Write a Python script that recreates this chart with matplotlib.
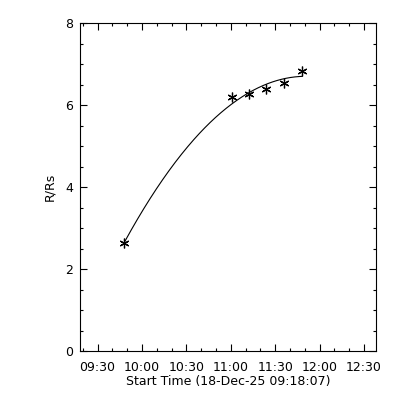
import matplotlib
matplotlib.use("Agg")
import matplotlib.pyplot as plt
import matplotlib.dates as mdates
import numpy as np
import datetime as dt

# Data
start_time = "2025-12-18 09:18:07"
times = ["09:48:00", "11:00:40", "11:12:20", "11:24:00", "11:36:00", "11:48:10"]
heights = [2.63, 6.19, 6.26, 6.38, 6.53, 6.83]
x_start = "09:18:07"
x_end = "12:38:07"
y_range = [0, 8]
x_label = "Start Time (18-Dec-25 09:18:07)"
y_label = "R/Rs"

day = dt.date(2025, 12, 18)
def to_dt(s):
    return dt.datetime.combine(day, dt.datetime.strptime(s, "%H:%M:%S").time())

t = [to_dt(s) for s in times]
t0 = to_dt(x_start)
mins = np.array([(ti - t0).total_seconds() / 60 for ti in t])
coef = np.polyfit(mins, heights, 2)
fm = np.linspace(mins[0], mins[-1], 200)
fy = np.polyval(coef, fm)
ft = [t0 + dt.timedelta(minutes=float(m)) for m in fm]

plt.rcParams['font.family'] = ['DejaVu Sans']
fig = plt.figure(figsize=(4, 4), dpi=100)
ax = fig.add_axes([0.2, 0.1225, 0.74, 0.82])
ax.plot(ft, fy, color='black', lw=0.8)
ax.plot(t, heights, linestyle='none', marker=(6, 2, 0), markersize=7,
        markeredgecolor='black', markeredgewidth=0.9, color='black')
ax.set_xlim(to_dt(x_start), to_dt(x_end))
ax.set_ylim(*y_range)
ax.xaxis.set_major_locator(mdates.MinuteLocator(byminute=[0, 30]))
ax.xaxis.set_minor_locator(mdates.MinuteLocator(byminute=range(0, 60, 10)))
ax.xaxis.set_major_formatter(mdates.DateFormatter("%H:%M"))
ax.set_yticks([0, 2, 4, 6, 8])
ax.set_yticks(np.arange(0, 8.01, 0.5), minor=True)
ax.tick_params(which='both', direction='in', top=True, right=True, labelsize=9, width=0.8)
ax.tick_params(which='major', length=5)
ax.tick_params(which='minor', length=2.5)
ax.tick_params(axis='x', pad=7)
ax.tick_params(axis='y', pad=5)
for s in ax.spines.values():
    s.set_linewidth(0.8)
ax.set_xlabel(x_label, fontsize=9, labelpad=1)
ax.set_ylabel(y_label, fontsize=9, labelpad=6)
fig.savefig("out.png", dpi=100)
